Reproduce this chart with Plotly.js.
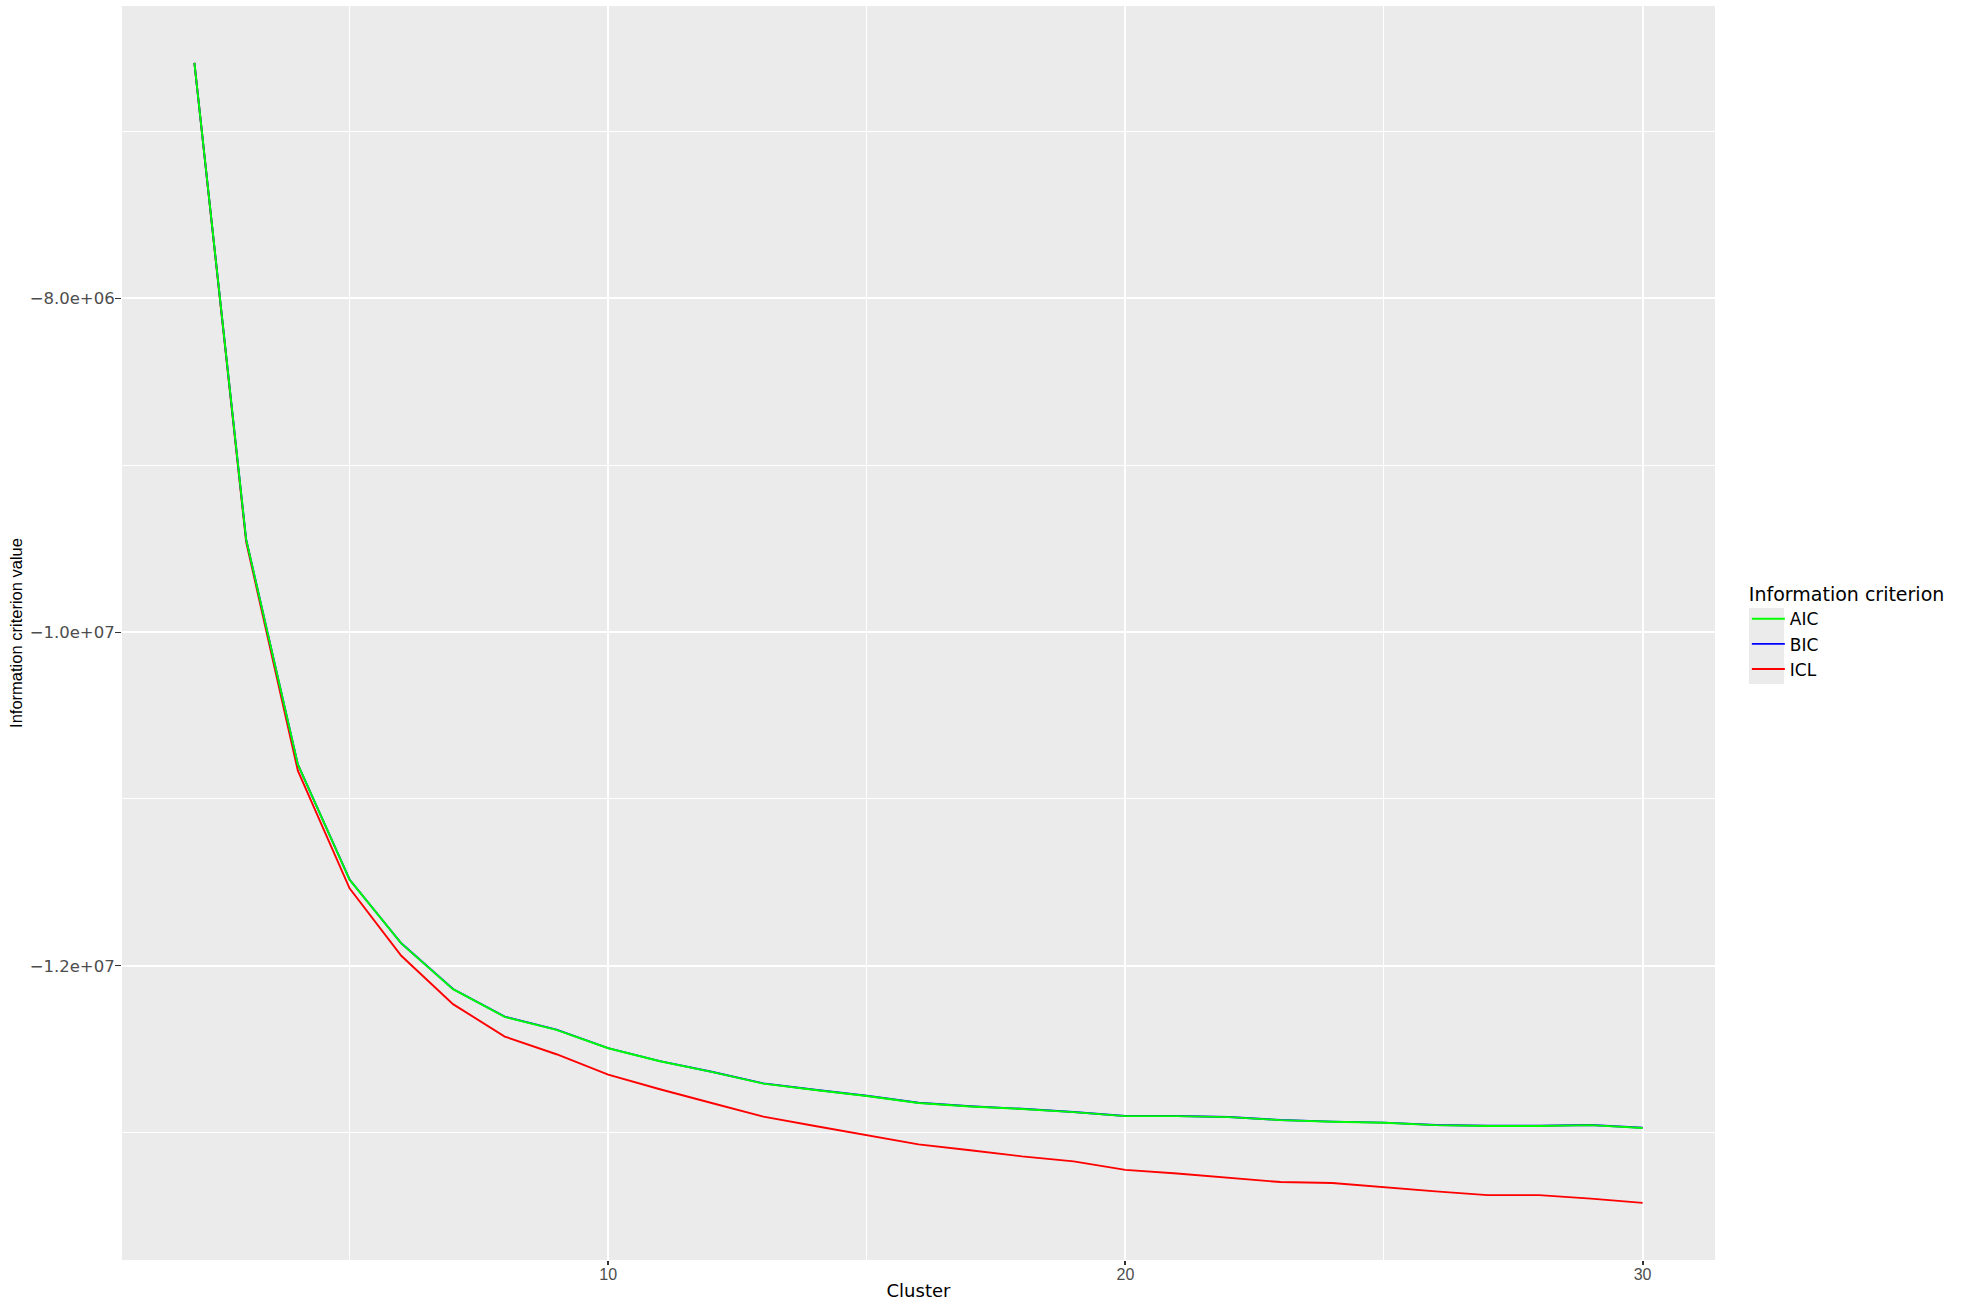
<!DOCTYPE html>
<html>
<head>
<meta charset="utf-8">
<script src="https://cdn.plot.ly/plotly-3.0.1.min.js"></script>
<style>
  html, body { margin: 0; padding: 0; background: #ffffff; }
  #chart { width: 1961px; height: 1308px; }
</style>
</head>
<body>
<div id="chart"></div>
<script>
// Information criteria by number of clusters
const clusters = [2, 3, 4, 5, 6, 7, 8, 9, 10, 11, 12, 13, 14, 15, 16,
                  17, 18, 19, 20, 21, 22, 23, 24, 25, 26, 27, 28, 29, 30];

const aicValues = [-6590000, -9445000, -10794000, -11484000, -11866000, -12140000,
                   -12306000, -12384000, -12494000, -12572000, -12636000, -12706000,
                   -12744000, -12780000, -12822000, -12843000, -12858000, -12877000,
                   -12901000, -12901000, -12907000, -12925000, -12935000, -12941000,
                   -12955000, -12960000, -12960000, -12955000, -12972000];

const bicValues = [-6590000, -9444000, -10793000, -11483000, -11865000, -12139000,
                   -12305000, -12383000, -12493000, -12571000, -12635000, -12705000,
                   -12743000, -12779000, -12821000, -12842000, -12857000, -12876000,
                   -12900000, -12900000, -12906000, -12924000, -12934000, -12940000,
                   -12954000, -12959000, -12959000, -12954000, -12971000];

const iclValues = [-6590000, -9460000, -10831000, -11536000, -11940000, -12230000,
                   -12424000, -12530000, -12652000, -12740000, -12822000, -12904000,
                   -12960000, -13016000, -13070000, -13105000, -13142000, -13172000,
                   -13223000, -13245000, -13269000, -13296000, -13302000, -13328000,
                   -13352000, -13374000, -13374000, -13395000, -13421000];

const xTickVals = [10, 20, 30];
const xMinorVals = [5, 15, 25];
const yTickVals = [-8000000, -10000000, -12000000];
const yTickText = ['\u22128.0e+06', '\u22121.0e+07', '\u22121.2e+07'];
const yMinorVals = [-7000000, -9000000, -11000000, -13000000];

const wideFont = 'DejaVu Sans, Liberation Sans, sans-serif';
const plainFont = 'Liberation Sans, Arial, sans-serif';

// drawn ICL first so that AIC sits on top, legend reversed to read AIC, BIC, ICL
const traces = [
    { x: clusters, y: iclValues, name: 'ICL', type: 'scatter', mode: 'lines',
      line: { color: '#FF0000', width: 1.9 } },
    { x: clusters, y: bicValues, name: 'BIC', type: 'scatter', mode: 'lines',
      line: { color: '#0000FF', width: 1.9 } },
    { x: clusters, y: aicValues, name: 'AIC', type: 'scatter', mode: 'lines',
      line: { color: '#00FF00', width: 1.9 } }
];

const layout = {
    width: 1961,
    height: 1308,
    margin: { l: 122, r: 246, t: 6, b: 48 },
    paper_bgcolor: '#FFFFFF',
    plot_bgcolor: '#EBEBEB',
    showlegend: true,
    xaxis: {
        range: [0.6, 31.4],
        tickmode: 'array',
        tickvals: xTickVals,
        ticks: 'outside',
        ticklen: 4,
        tickwidth: 1.5,
        tickcolor: '#333333',
        tickfont: { family: plainFont, size: 16, color: '#4D4D4D' },
        ticklabelstandoff: -4,
        showgrid: true,
        gridcolor: '#FFFFFF',
        gridwidth: 2.2,
        minor: { tickmode: 'array', tickvals: xMinorVals, showgrid: true,
                 gridcolor: '#FFFFFF', gridwidth: 1.2, ticks: '' },
        zeroline: false,
        showline: false,
        title: { text: 'Cluster', font: { family: wideFont, size: 18, color: '#000000' }, standoff: 2 }
    },
    yaxis: {
        range: [-13763000, -6249000],
        tickmode: 'array',
        tickvals: yTickVals,
        ticktext: yTickText,
        ticks: 'outside',
        ticklen: 6,
        tickwidth: 1.1,
        tickcolor: '#333333',
        tickfont: { family: wideFont, size: 16.5, color: '#4D4D4D' },
        ticklabelstandoff: -3,
        showgrid: true,
        gridcolor: '#FFFFFF',
        gridwidth: 1.7,
        minor: { tickmode: 'array', tickvals: yMinorVals, showgrid: true,
                 gridcolor: '#FFFFFF', gridwidth: 0.9, ticks: '' },
        zeroline: false,
        showline: false,
        title: { text: 'Information criterion value', font: { family: plainFont, size: 16.5, color: '#000000' }, standoff: 2 }
    },
    legend: {
        x: 1.02,
        xanchor: 'left',
        y: 0.545,
        yanchor: 'top',
        traceorder: 'reversed',
        bgcolor: 'rgba(0,0,0,0)',
        font: { family: wideFont, size: 17, color: '#000000' },
        title: { text: 'Information criterion', font: { family: wideFont, size: 19, color: '#000000' } },
        itemwidth: 33
    },
    // grey key background behind the legend symbols
    shapes: [{
        type: 'rect', xref: 'paper', yref: 'paper', layer: 'below',
        x0: (1749 - 122) / 1593, x1: (1784 - 122) / 1593,
        y0: (1260 - 684) / 1254, y1: (1260 - 608) / 1254,
        fillcolor: '#EBEBEB', line: { width: 0 }
    }]
};

Plotly.newPlot('chart', traces, layout, { displayModeBar: false, responsive: false });
</script>
</body>
</html>
